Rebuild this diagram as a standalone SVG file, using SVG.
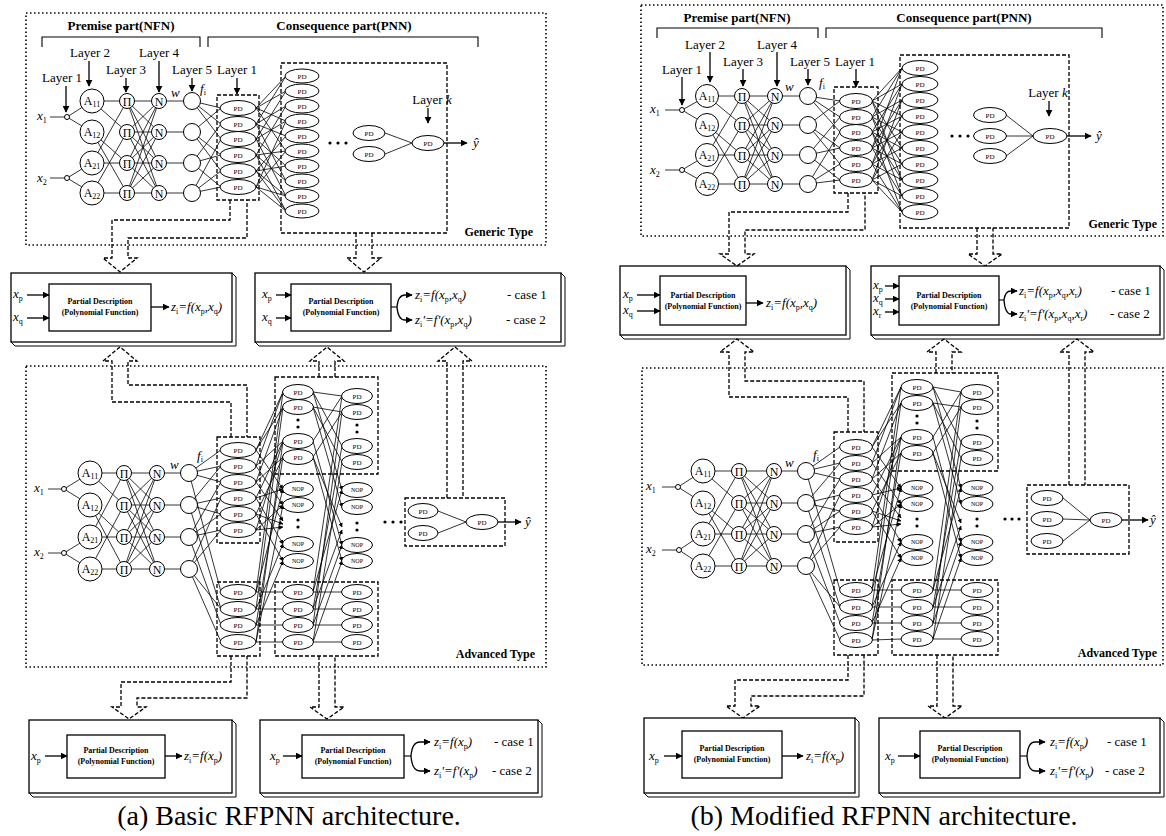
<svg xmlns="http://www.w3.org/2000/svg" width="1166" height="836" viewBox="0 0 1166 836">
<style>
.fr{fill:none;stroke:#000;stroke-width:1.6;stroke-dasharray:1.5 2.5}
.ds{fill:none;stroke:#000;stroke-width:1.3;stroke-dasharray:4 2}
.l{fill:none;stroke:#000;stroke-width:0.8}
.la{fill:none;stroke:#000;stroke-width:0.8;marker-end:url(#as)}
.ar{fill:none;stroke:#000;stroke-width:1.3;marker-end:url(#ah)}
.br{fill:none;stroke:#000;stroke-width:1.1}
.e{fill:#fff;stroke:#000;stroke-width:1}
.bx{fill:#fff;stroke:#000;stroke-width:1.3}
.sd{fill:none;stroke:#000;stroke-width:1}
.t{font-family:"Liberation Serif","Times New Roman",serif;font-size:13px;fill:#000}
.m{text-anchor:middle}
.e2{text-anchor:end}
.b{font-weight:bold}
.i{font-style:italic}
.n12{font-size:12px}
.pt{font-family:"Liberation Serif",serif;font-size:7px;text-anchor:middle}
.nt{font-family:"Liberation Serif",serif;font-size:6px;text-anchor:middle}
.pdt{font-family:"Liberation Serif",serif;font-size:8px;font-weight:bold;text-anchor:middle}
.sb{font-size:8px;font-style:normal}
.cap{font-family:"Liberation Serif",serif;font-size:28px;text-anchor:middle}
.dot{fill:#000}
</style>
<defs>
<marker id="ah" viewBox="0 0 10 10" refX="9" refY="5" markerWidth="7" markerHeight="7" markerUnits="userSpaceOnUse" orient="auto"><path d="M0,0L10,5L0,10z"/></marker>
<marker id="as" viewBox="0 0 10 10" refX="9" refY="5" markerWidth="4.5" markerHeight="4.5" markerUnits="userSpaceOnUse" orient="auto"><path d="M0,0L10,5L0,10z"/></marker>
</defs>

<!-- ================= FRAMES ================= -->
<g id="frames">
<rect class="fr" x="26" y="13" width="520" height="232"/>
<rect class="fr" x="26" y="366" width="520" height="301"/>
<rect class="fr" x="641" y="5" width="522" height="231"/>
<rect class="fr" x="642" y="368" width="521" height="297"/>
<text class="t b e2 n12" x="533" y="236">Generic Type</text>
<text class="t b e2 n12" x="535" y="658">Advanced Type</text>
<text class="t b e2 n12" x="1157" y="228">Generic Type</text>
<text class="t b e2 n12" x="1157" y="657">Advanced Type</text>
</g>

<!-- ================= CONNECTORS ================= -->
<g id="connectors">
<!-- (a) generic -->
<path class="l" d="M50,117H64.5M50,178H64.5M67,117L92,101M67,117L92,132M67,178L92,163M67,178L92,193
M92,101L127,101M92,101L127,132M92,132L127,163M92,132L127,193M92,163L127,101M92,163L127,163M92,193L127,132M92,193L127,193
M127,101L159,101M127,101L159,132M127,101L159,163M127,101L159,193M127,132L159,101M127,132L159,132M127,132L159,163M127,132L159,193
M127,163L159,101M127,163L159,132M127,163L159,163M127,163L159,193M127,193L159,101M127,193L159,132M127,193L159,163M127,193L159,193
M159,101H192M159,132H192M159,163H192M159,193H192
M192,101L221,108M192,101L221,124M192,101L221,139M192,132L221,108M192,132L221,155M192,132L221,171
M192,163L221,124M192,163L221,155M192,163L221,187M192,193L221,139M192,193L221,171M192,193L221,187
M256,108L286,76M256,108L286,91M256,108L286,121M256,108L286,151M256,124L286,76M256,124L286,106M256,124L286,136M256,124L286,181
M256,139L286,91M256,139L286,121M256,139L286,166M256,139L286,196M256,155L286,106M256,155L286,151M256,155L286,181M256,155L286,211
M256,171L286,136M256,171L286,166M256,171L286,196M256,171L286,211M256,187L286,121M256,187L286,151M256,187L286,196M256,187L286,211
M385,133L412,143M385,154L412,143"/>
<line class="ar" x1="89" y1="61" x2="89" y2="86"/>
<line class="ar" x1="159" y1="61" x2="159" y2="92"/>
<line class="ar" x1="126" y1="78" x2="126" y2="92"/>
<line class="ar" x1="66" y1="86" x2="66" y2="112"/>
<line class="ar" x1="192" y1="78" x2="192" y2="91"/>
<line class="ar" x1="237" y1="78" x2="237" y2="94"/>
<line class="ar" x1="428" y1="108" x2="428" y2="123"/>
<line class="ar" x1="444" y1="143" x2="467" y2="143"/>

<!-- (a) advanced -->
<path class="l" d="M48,489H61.5M48,553H61.5M64,489L90,473M64,489L90,505M64,553L90,537M64,553L90,569
M90,473L124,473M90,473L124,505M90,505L124,537M90,505L124,569M90,537L124,473M90,537L124,537M90,569L124,505M90,569L124,569
M124,473L157,473M124,473L157,505M124,473L157,537M124,473L157,569M124,505L157,473M124,505L157,505M124,505L157,537M124,505L157,569
M124,537L157,473M124,537L157,505M124,537L157,537M124,537L157,569M124,569L157,473M124,569L157,505M124,569L157,537M124,569L157,569
M157,473H189M157,505H189M157,537H189M157,569H189
M189,473L221,450M189,473L221,466M189,473L221,482M189,473L221,592M189,505L221,466M189,505L221,498M189,505L221,514M189,505L221,609
M189,537L221,482M189,537L221,514M189,537L221,530M189,537L221,625M189,569L221,498M189,569L221,530M189,569L221,642M189,569L221,609
M256,450L283,392M256,450L283,407M256,466L283,392M256,466L283,441M256,482L283,407M256,482L283,457M256,498L283,441M256,514L283,457M256,530L283,441
M256,592L283,592M256,592L283,392M256,609L283,609M256,609L283,407M256,625L283,625M256,625L283,457M256,642L283,642M256,642L283,441
M313,392L342,396M313,392L342,446M313,407L342,412M313,407L342,462M313,441L342,396M313,457L342,412
M313,592L342,592M313,592L342,396M313,609L342,609M313,609L342,446M313,625L342,625M313,625L342,412M313,642L342,642M313,642L342,462
M438,511L466,522M438,533L466,522"/>
<line class="la" x1="256" y1="450" x2="283" y2="489"/>
<line class="la" x1="256" y1="466" x2="283" y2="505"/>
<line class="la" x1="256" y1="482" x2="283" y2="521"/>
<line class="la" x1="256" y1="498" x2="283" y2="544"/>
<line class="la" x1="256" y1="498" x2="283" y2="489"/>
<line class="la" x1="256" y1="514" x2="283" y2="561"/>
<line class="la" x1="256" y1="514" x2="283" y2="524"/>
<line class="la" x1="256" y1="530" x2="283" y2="505"/>
<line class="la" x1="256" y1="530" x2="283" y2="527"/>
<line class="la" x1="256" y1="592" x2="283" y2="489"/>
<line class="la" x1="256" y1="609" x2="283" y2="544"/>
<line class="la" x1="256" y1="625" x2="283" y2="561"/>
<line class="la" x1="256" y1="642" x2="283" y2="505"/>
<line class="la" x1="313" y1="392" x2="342" y2="490"/>
<line class="la" x1="313" y1="407" x2="342" y2="507"/>
<line class="la" x1="313" y1="441" x2="342" y2="545"/>
<line class="la" x1="313" y1="457" x2="342" y2="561"/>
<line class="la" x1="313" y1="457" x2="342" y2="527"/>
<line class="la" x1="313" y1="592" x2="342" y2="490"/>
<line class="la" x1="313" y1="609" x2="342" y2="530"/>
<line class="la" x1="313" y1="625" x2="342" y2="545"/>
<line class="la" x1="313" y1="642" x2="342" y2="561"/>
<line class="ar" x1="498" y1="522" x2="521" y2="522"/>

<!-- (b) generic -->
<path class="l" d="M665,110H679.5M665,170H679.5M682,110L707,96M682,110L707,125M682,170L707,155M682,170L707,184
M707,96L742,96M707,96L742,125M707,125L742,155M707,125L742,184M707,155L742,96M707,155L742,155M707,184L742,125M707,184L742,184
M742,96L775,96M742,96L775,125M742,96L775,155M742,96L775,184M742,125L775,96M742,125L775,125M742,125L775,155M742,125L775,184
M742,155L775,96M742,155L775,125M742,155L775,155M742,155L775,184M742,184L775,96M742,184L775,125M742,184L775,155M742,184L775,184
M775,96H808M775,125H808M775,155H808M775,184H808
M808,96L840,101M808,96L840,117M808,96L840,132M808,125L840,101M808,125L840,148M808,125L840,164
M808,155L840,117M808,155L840,148M808,155L840,180M808,184L840,132M808,184L840,164M808,184L840,180
M872,101L902,68M872,101L902,84M872,101L902,116M872,101L902,148M872,101L902,180
M872,117L902,68M872,117L902,100M872,117L902,132M872,117L902,164M872,117L902,196
M872,132L902,84M872,132L902,116M872,132L902,148M872,132L902,180M872,132L902,212
M872,148L902,68M872,148L902,100M872,148L902,132M872,148L902,164M872,148L902,196
M872,164L902,84M872,164L902,116M872,164L902,148M872,164L902,180M872,164L902,212
M872,180L902,100M872,180L902,132M872,180L902,164M872,180L902,196M872,180L902,212
M1006,115L1033,136M1006,136L1033,136M1006,156L1033,136"/>
<line class="ar" x1="710" y1="52" x2="710" y2="82"/>
<line class="ar" x1="777" y1="52" x2="777" y2="86"/>
<line class="ar" x1="743" y1="69" x2="743" y2="86"/>
<line class="ar" x1="682" y1="77" x2="682" y2="105"/>
<line class="ar" x1="808" y1="69" x2="808" y2="85"/>
<line class="ar" x1="856" y1="69" x2="856" y2="87"/>
<line class="ar" x1="1049" y1="101" x2="1049" y2="116"/>
<line class="ar" x1="1067" y1="136" x2="1091" y2="136"/>

<!-- (b) advanced -->
<path class="l" d="M662,487H675.5M662,550H676.5M678,487L703,471M678,487L703,503M679,550L703,534M679,550L703,566
M703,471L739,471M703,471L739,503M703,503L739,534M703,503L739,566M703,534L739,471M703,534L739,534M703,566L739,503M703,566L739,566
M739,471L774,471M739,471L774,503M739,471L774,534M739,471L774,566M739,503L774,471M739,503L774,503M739,503L774,534M739,503L774,566
M739,534L774,471M739,534L774,503M739,534L774,534M739,534L774,566M739,566L774,471M739,566L774,503M739,566L774,534M739,566L774,566
M774,471H806M774,503H806M774,534H806M774,566H806
M806,471L840,447M806,471L840,463M806,471L840,479M806,471L840,590M806,503L840,463M806,503L840,495M806,503L840,511M806,503L840,607
M806,534L840,479M806,534L840,511M806,534L840,527M806,534L840,623M806,566L840,495M806,566L840,527M806,566L840,640M806,566L840,607
M872,447L901,387M872,447L901,403M872,463L901,387M872,463L901,437M872,479L901,403M872,479L901,453M872,495L901,437M872,511L901,453M872,527L901,437
M872,590L901,590M872,590L901,387M872,607L901,607M872,607L901,403M872,623L901,623M872,623L901,453M872,640L901,639M872,640L901,437
M933,387L961,392M933,387L961,442M933,403L961,407M933,403L961,458M933,437L961,392M933,453L961,407
M933,590L961,590M933,590L961,392M933,607L961,607M933,607L961,442M933,623L961,623M933,623L961,407M933,639L961,639M933,639L961,458
M1063,498L1090,520M1063,519L1090,520M1063,541L1090,520"/>
<line class="la" x1="872" y1="447" x2="901" y2="488"/>
<line class="la" x1="872" y1="463" x2="901" y2="504"/>
<line class="la" x1="872" y1="479" x2="901" y2="518"/>
<line class="la" x1="872" y1="495" x2="901" y2="542"/>
<line class="la" x1="872" y1="495" x2="901" y2="488"/>
<line class="la" x1="872" y1="511" x2="901" y2="558"/>
<line class="la" x1="872" y1="511" x2="901" y2="521"/>
<line class="la" x1="872" y1="527" x2="901" y2="504"/>
<line class="la" x1="872" y1="527" x2="901" y2="524"/>
<line class="la" x1="872" y1="590" x2="901" y2="488"/>
<line class="la" x1="872" y1="607" x2="901" y2="542"/>
<line class="la" x1="872" y1="623" x2="901" y2="558"/>
<line class="la" x1="872" y1="640" x2="901" y2="504"/>
<line class="la" x1="933" y1="387" x2="961" y2="488"/>
<line class="la" x1="933" y1="403" x2="961" y2="504"/>
<line class="la" x1="933" y1="437" x2="961" y2="542"/>
<line class="la" x1="933" y1="453" x2="961" y2="558"/>
<line class="la" x1="933" y1="453" x2="961" y2="523"/>
<line class="la" x1="933" y1="590" x2="961" y2="488"/>
<line class="la" x1="933" y1="607" x2="961" y2="526"/>
<line class="la" x1="933" y1="623" x2="961" y2="542"/>
<line class="la" x1="933" y1="639" x2="961" y2="558"/>
<line class="ar" x1="1122" y1="520" x2="1148" y2="520"/>

<!-- dashed block arrows -->
<path class="ds" d="M230,200V220H112V258H103L120,272L137,258H128V238H247V200"/>
<path class="ds" d="M356,233V258H347L364,272L381,258H372V233"/>
<path class="ds" d="M231,437V402H112V361H103L120,347L137,361H128V385H247V437"/>
<path class="ds" d="M319,377V361H310L327,347L344,361H335V377"/>
<path class="ds" d="M447,498V361H438L455,347L472,361H463V498"/>
<path class="ds" d="M231,656V682H121V707H112L129,719L146,707H137V698H247V656"/>
<path class="ds" d="M319,656V707H310L327,719L344,707H335V656"/>
<path class="ds" d="M848,193V212H729V254H720L737,266L754,254H745V230H865V193"/>
<path class="ds" d="M977,228V254H968L985,266L1002,254H993V228"/>
<path class="ds" d="M848,432V397H729V352H720L737,339L754,352H745V381H864V432"/>
<path class="ds" d="M936,373V352H927L944,339L961,352H952V373"/>
<path class="ds" d="M1069,485V352H1060L1077,339L1094,352H1085V485"/>
<path class="ds" d="M848,655V680H735V706H726L743,718L760,706H751V696H864V655"/>
<path class="ds" d="M937,655V706H928L945,718L962,706H953V655"/>
</g>

<!-- ================= PANEL (a) GENERIC NODES ================= -->
<g id="a-gen-labels">
<text class="t b m" x="121" y="30">Premise part(NFN)</text>
<text class="t b m" x="344" y="30">Consequence part(PNN)</text>
<path class="br" d="M42,47V37H200V47M208,47V37H478V47"/>
<text class="t m" x="62" y="82">Layer 1</text>
<text class="t m" x="90" y="57">Layer 2</text>
<text class="t m" x="126" y="74">Layer 3</text>
<text class="t m" x="159" y="57">Layer 4</text>
<text class="t m" x="192" y="74">Layer 5</text>
<text class="t m" x="237" y="74">Layer 1</text>
<text class="t m" x="432" y="104">Layer <tspan class="i">k</tspan></text>
<text class="t i" x="171" y="97">w</text>
<text class="t i" x="200" y="93">f<tspan class="sb" dy="2">i</tspan></text>
<text class="t i" x="473" y="147">ŷ</text>
</g>
<g id="a-g-x1"><text class="t i" x="37" y="120">x<tspan class="sb" dy="3">1</tspan></text><circle class="e" cx="67" cy="117" r="2.5"/></g>
<g id="a-g-x2"><text class="t i" x="37" y="182">x<tspan class="sb" dy="3">2</tspan></text><circle class="e" cx="67" cy="178" r="2.5"/></g>
<g id="a-g-A11"><circle class="e" cx="92" cy="101" r="12"/><text class="t m n12" x="92" y="105">A<tspan class="sb" dy="2">11</tspan></text></g>
<g id="a-g-A12"><circle class="e" cx="92" cy="132" r="12"/><text class="t m n12" x="92" y="136">A<tspan class="sb" dy="2">12</tspan></text></g>
<g id="a-g-A21"><circle class="e" cx="92" cy="163" r="12"/><text class="t m n12" x="92" y="167">A<tspan class="sb" dy="2">21</tspan></text></g>
<g id="a-g-A22"><circle class="e" cx="92" cy="193" r="12"/><text class="t m n12" x="92" y="197">A<tspan class="sb" dy="2">22</tspan></text></g>
<g id="a-g-P1"><circle class="e" cx="127" cy="101" r="7.5"/><text class="t m n12" x="127" y="105.5">Π</text></g>
<g id="a-g-P2"><circle class="e" cx="127" cy="132" r="7.5"/><text class="t m n12" x="127" y="136.5">Π</text></g>
<g id="a-g-P3"><circle class="e" cx="127" cy="163" r="7.5"/><text class="t m n12" x="127" y="167.5">Π</text></g>
<g id="a-g-P4"><circle class="e" cx="127" cy="193" r="7.5"/><text class="t m n12" x="127" y="197.5">Π</text></g>
<g id="a-g-N1"><circle class="e" cx="159" cy="101" r="7.5"/><text class="t m n12" x="159" y="105.5">N</text></g>
<g id="a-g-N2"><circle class="e" cx="159" cy="132" r="7.5"/><text class="t m n12" x="159" y="136.5">N</text></g>
<g id="a-g-N3"><circle class="e" cx="159" cy="163" r="7.5"/><text class="t m n12" x="159" y="167.5">N</text></g>
<g id="a-g-N4"><circle class="e" cx="159" cy="193" r="7.5"/><text class="t m n12" x="159" y="197.5">N</text></g>
<g id="a-g-L1"><circle class="e" cx="192" cy="101" r="8.5"/></g>
<g id="a-g-L2"><circle class="e" cx="192" cy="132" r="8.5"/></g>
<g id="a-g-L3"><circle class="e" cx="192" cy="163" r="8.5"/></g>
<g id="a-g-L4"><circle class="e" cx="192" cy="193" r="8.5"/></g>
<g id="a-g-pd1">
<rect class="ds" x="217" y="95" width="42" height="105"/>
<ellipse class="e" cx="238" cy="108" rx="18" ry="7.5"/><text class="pt" x="238" y="110.5">PD</text>
<ellipse class="e" cx="238" cy="124" rx="18" ry="7.5"/><text class="pt" x="238" y="126.5">PD</text>
<ellipse class="e" cx="238" cy="139" rx="18" ry="7.5"/><text class="pt" x="238" y="141.5">PD</text>
<ellipse class="e" cx="238" cy="155" rx="18" ry="7.5"/><text class="pt" x="238" y="157.5">PD</text>
<ellipse class="e" cx="238" cy="171" rx="18" ry="7.5"/><text class="pt" x="238" y="173.5">PD</text>
<ellipse class="e" cx="238" cy="187" rx="18" ry="7.5"/><text class="pt" x="238" y="189.5">PD</text>
</g>
<g id="a-g-pnn">
<rect class="ds" x="281" y="63" width="166" height="170"/>
<ellipse class="e" cx="302" cy="76" rx="17" ry="7"/><text class="pt" x="302" y="78.5">PD</text>
<ellipse class="e" cx="302" cy="91" rx="17" ry="7"/><text class="pt" x="302" y="93.5">PD</text>
<ellipse class="e" cx="302" cy="106" rx="17" ry="7"/><text class="pt" x="302" y="108.5">PD</text>
<ellipse class="e" cx="302" cy="121" rx="17" ry="7"/><text class="pt" x="302" y="123.5">PD</text>
<ellipse class="e" cx="302" cy="136" rx="17" ry="7"/><text class="pt" x="302" y="138.5">PD</text>
<ellipse class="e" cx="302" cy="151" rx="17" ry="7"/><text class="pt" x="302" y="153.5">PD</text>
<ellipse class="e" cx="302" cy="166" rx="17" ry="7"/><text class="pt" x="302" y="168.5">PD</text>
<ellipse class="e" cx="302" cy="181" rx="17" ry="7"/><text class="pt" x="302" y="183.5">PD</text>
<ellipse class="e" cx="302" cy="196" rx="17" ry="7"/><text class="pt" x="302" y="198.5">PD</text>
<ellipse class="e" cx="302" cy="211" rx="17" ry="7"/><text class="pt" x="302" y="213.5">PD</text>
<circle class="dot" cx="330" cy="143" r="1.6"/><circle class="dot" cx="338" cy="143" r="1.6"/><circle class="dot" cx="346" cy="143" r="1.6"/>
<ellipse class="e" cx="369" cy="133" rx="16" ry="7.5"/><text class="pt" x="369" y="135.5">PD</text>
<ellipse class="e" cx="369" cy="154" rx="16" ry="7.5"/><text class="pt" x="369" y="156.5">PD</text>
<ellipse class="e" cx="428" cy="143" rx="16" ry="7.5"/><text class="pt" x="428" y="145.5">PD</text>
</g>

<!-- ================= PANEL (a) MIDDLE BOXES ================= -->
<g id="a-mid-left">
<rect class="bx" x="11" y="273" width="221" height="69"/>
<path class="sd" d="M232,273L236,277V346H15L11,342"/>
<rect class="bx" x="49" y="284" width="102" height="47"/>
<text class="pdt" x="100" y="304">Partial Description</text>
<text class="pdt" x="100" y="315">(Polynomial Function)</text>
<text class="t i" x="13" y="298">x<tspan class="sb" dy="3">p</tspan></text>
<text class="t i" x="13" y="321">x<tspan class="sb" dy="3">q</tspan></text>
<line class="ar" x1="27" y1="295" x2="49" y2="295"/>
<line class="ar" x1="27" y1="318" x2="49" y2="318"/>
<line class="ar" x1="151" y1="307" x2="169" y2="307"/>
<text class="t i" x="171" y="311">z<tspan class="sb" dy="3">i</tspan><tspan dy="-3">=f(x</tspan><tspan class="sb" dy="3">p</tspan><tspan dy="-3">,x</tspan><tspan class="sb" dy="3">q</tspan><tspan dy="-3">)</tspan></text>
</g>
<g id="a-mid-right">
<rect class="bx" x="255" y="273" width="306" height="69"/>
<path class="sd" d="M561,273L565,277V346H259L255,342"/>
<rect class="bx" x="291" y="284" width="100" height="47"/>
<text class="pdt" x="341" y="304">Partial Description</text>
<text class="pdt" x="341" y="315">(Polynomial Function)</text>
<text class="t i" x="262" y="298">x<tspan class="sb" dy="3">p</tspan></text>
<text class="t i" x="262" y="321">x<tspan class="sb" dy="3">q</tspan></text>
<line class="ar" x1="276" y1="295" x2="291" y2="295"/>
<line class="ar" x1="276" y1="318" x2="291" y2="318"/>
<path class="br" d="M391,307H397"/>
<path class="ar" d="M397,307Q398,295 405,295H412"/>
<path class="ar" d="M397,307Q398,320 405,320H412"/>
<text class="t i" x="415" y="299">z<tspan class="sb" dy="3">i</tspan><tspan dy="-3">=f(x</tspan><tspan class="sb" dy="3">p</tspan><tspan dy="-3">,x</tspan><tspan class="sb" dy="3">q</tspan><tspan dy="-3">)</tspan></text>
<text class="t" x="507" y="299">- case 1</text>
<text class="t i" x="415" y="324">z<tspan class="sb" dy="3">i</tspan><tspan dy="-3">'=f'(x</tspan><tspan class="sb" dy="3">p</tspan><tspan dy="-3">,x</tspan><tspan class="sb" dy="3">q</tspan><tspan dy="-3">)</tspan></text>
<text class="t" x="506" y="324">- case 2</text>
</g>

<!-- ================= PANEL (a) ADVANCED NODES ================= -->
<g id="a-adv-labels">
<text class="t i" x="170" y="469">w</text>
<text class="t i" x="197" y="460">f<tspan class="sb" dy="2">i</tspan></text>
<text class="t i" x="525" y="526">ŷ</text>
</g>
<g id="a-a-x1"><text class="t i" x="34" y="492">x<tspan class="sb" dy="3">1</tspan></text><circle class="e" cx="64" cy="489" r="2.5"/></g>
<g id="a-a-x2"><text class="t i" x="34" y="556">x<tspan class="sb" dy="3">2</tspan></text><circle class="e" cx="64" cy="553" r="2.5"/></g>
<g id="a-a-A11"><circle class="e" cx="90" cy="473" r="12"/><text class="t m n12" x="90" y="477">A<tspan class="sb" dy="2">11</tspan></text></g>
<g id="a-a-A12"><circle class="e" cx="90" cy="505" r="12"/><text class="t m n12" x="90" y="509">A<tspan class="sb" dy="2">12</tspan></text></g>
<g id="a-a-A21"><circle class="e" cx="90" cy="537" r="12"/><text class="t m n12" x="90" y="541">A<tspan class="sb" dy="2">21</tspan></text></g>
<g id="a-a-A22"><circle class="e" cx="90" cy="569" r="12"/><text class="t m n12" x="90" y="573">A<tspan class="sb" dy="2">22</tspan></text></g>
<g id="a-a-P1"><circle class="e" cx="124" cy="473" r="7.5"/><text class="t m n12" x="124" y="477.5">Π</text></g>
<g id="a-a-P2"><circle class="e" cx="124" cy="505" r="7.5"/><text class="t m n12" x="124" y="509.5">Π</text></g>
<g id="a-a-P3"><circle class="e" cx="124" cy="537" r="7.5"/><text class="t m n12" x="124" y="541.5">Π</text></g>
<g id="a-a-P4"><circle class="e" cx="124" cy="569" r="7.5"/><text class="t m n12" x="124" y="573.5">Π</text></g>
<g id="a-a-N1"><circle class="e" cx="157" cy="473" r="7.5"/><text class="t m n12" x="157" y="477.5">N</text></g>
<g id="a-a-N2"><circle class="e" cx="157" cy="505" r="7.5"/><text class="t m n12" x="157" y="509.5">N</text></g>
<g id="a-a-N3"><circle class="e" cx="157" cy="537" r="7.5"/><text class="t m n12" x="157" y="541.5">N</text></g>
<g id="a-a-N4"><circle class="e" cx="157" cy="569" r="7.5"/><text class="t m n12" x="157" y="573.5">N</text></g>
<g id="a-a-L1"><circle class="e" cx="189" cy="473" r="8.5"/></g>
<g id="a-a-L2"><circle class="e" cx="189" cy="505" r="8.5"/></g>
<g id="a-a-L3"><circle class="e" cx="189" cy="537" r="8.5"/></g>
<g id="a-a-L4"><circle class="e" cx="189" cy="569" r="8.5"/></g>
<g id="a-a-pd1-up">
<rect class="ds" x="217" y="437" width="43" height="106"/>
<ellipse class="e" cx="238" cy="450" rx="18" ry="7.5"/><text class="pt" x="238" y="452.5">PD</text>
<ellipse class="e" cx="238" cy="466" rx="18" ry="7.5"/><text class="pt" x="238" y="468.5">PD</text>
<ellipse class="e" cx="238" cy="482" rx="18" ry="7.5"/><text class="pt" x="238" y="484.5">PD</text>
<ellipse class="e" cx="238" cy="498" rx="18" ry="7.5"/><text class="pt" x="238" y="500.5">PD</text>
<ellipse class="e" cx="238" cy="514" rx="18" ry="7.5"/><text class="pt" x="238" y="516.5">PD</text>
<ellipse class="e" cx="238" cy="530" rx="18" ry="7.5"/><text class="pt" x="238" y="532.5">PD</text>
</g>
<g id="a-a-pd1-low">
<rect class="ds" x="217" y="582" width="43" height="74"/>
<ellipse class="e" cx="238" cy="592" rx="18" ry="7.5"/><text class="pt" x="238" y="594.5">PD</text>
<ellipse class="e" cx="238" cy="609" rx="18" ry="7.5"/><text class="pt" x="238" y="611.5">PD</text>
<ellipse class="e" cx="238" cy="625" rx="18" ry="7.5"/><text class="pt" x="238" y="627.5">PD</text>
<ellipse class="e" cx="238" cy="642" rx="18" ry="7.5"/><text class="pt" x="238" y="644.5">PD</text>
</g>
<g id="a-a-l2-up">
<rect class="ds" x="275" y="377" width="103" height="97"/>
<ellipse class="e" cx="298" cy="392" rx="15.5" ry="7.5"/><text class="pt" x="298" y="394.5">PD</text>
<ellipse class="e" cx="298" cy="407" rx="15.5" ry="7.5"/><text class="pt" x="298" y="409.5">PD</text>
<circle class="dot" cx="298" cy="420" r="1.6"/><circle class="dot" cx="298" cy="427" r="1.6"/>
<ellipse class="e" cx="298" cy="441" rx="15.5" ry="7.5"/><text class="pt" x="298" y="443.5">PD</text>
<ellipse class="e" cx="298" cy="457" rx="15.5" ry="7.5"/><text class="pt" x="298" y="459.5">PD</text>
<ellipse class="e" cx="357" cy="396" rx="15.5" ry="7.5"/><text class="pt" x="357" y="398.5">PD</text>
<ellipse class="e" cx="357" cy="412" rx="15.5" ry="7.5"/><text class="pt" x="357" y="414.5">PD</text>
<circle class="dot" cx="357" cy="425" r="1.6"/><circle class="dot" cx="357" cy="432" r="1.6"/>
<ellipse class="e" cx="357" cy="446" rx="15.5" ry="7.5"/><text class="pt" x="357" y="448.5">PD</text>
<ellipse class="e" cx="357" cy="462" rx="15.5" ry="7.5"/><text class="pt" x="357" y="464.5">PD</text>
</g>
<g id="a-a-nop">
<ellipse class="e" cx="298" cy="489" rx="15.5" ry="7.5"/><text class="nt" x="298" y="491">NOP</text>
<ellipse class="e" cx="298" cy="505" rx="15.5" ry="7.5"/><text class="nt" x="298" y="507">NOP</text>
<circle class="dot" cx="298" cy="520" r="1.6"/><circle class="dot" cx="298" cy="527" r="1.6"/>
<ellipse class="e" cx="298" cy="544" rx="15.5" ry="7.5"/><text class="nt" x="298" y="546">NOP</text>
<ellipse class="e" cx="298" cy="561" rx="15.5" ry="7.5"/><text class="nt" x="298" y="563">NOP</text>
<ellipse class="e" cx="357" cy="490" rx="15.5" ry="7.5"/><text class="nt" x="357" y="492">NOP</text>
<ellipse class="e" cx="357" cy="507" rx="15.5" ry="7.5"/><text class="nt" x="357" y="509">NOP</text>
<circle class="dot" cx="357" cy="523" r="1.6"/><circle class="dot" cx="357" cy="530" r="1.6"/>
<ellipse class="e" cx="357" cy="545" rx="15.5" ry="7.5"/><text class="nt" x="357" y="547">NOP</text>
<ellipse class="e" cx="357" cy="561" rx="15.5" ry="7.5"/><text class="nt" x="357" y="563">NOP</text>
</g>
<g id="a-a-l2-low">
<rect class="ds" x="275" y="582" width="103" height="74"/>
<ellipse class="e" cx="298" cy="592" rx="15.5" ry="7.5"/><text class="pt" x="298" y="594.5">PD</text>
<ellipse class="e" cx="298" cy="609" rx="15.5" ry="7.5"/><text class="pt" x="298" y="611.5">PD</text>
<ellipse class="e" cx="298" cy="625" rx="15.5" ry="7.5"/><text class="pt" x="298" y="627.5">PD</text>
<ellipse class="e" cx="298" cy="642" rx="15.5" ry="7.5"/><text class="pt" x="298" y="644.5">PD</text>
<ellipse class="e" cx="357" cy="592" rx="15.5" ry="7.5"/><text class="pt" x="357" y="594.5">PD</text>
<ellipse class="e" cx="357" cy="609" rx="15.5" ry="7.5"/><text class="pt" x="357" y="611.5">PD</text>
<ellipse class="e" cx="357" cy="625" rx="15.5" ry="7.5"/><text class="pt" x="357" y="627.5">PD</text>
<ellipse class="e" cx="357" cy="642" rx="15.5" ry="7.5"/><text class="pt" x="357" y="644.5">PD</text>
</g>
<g id="a-a-final">
<circle class="dot" cx="385" cy="522" r="1.6"/><circle class="dot" cx="393" cy="522" r="1.6"/><circle class="dot" cx="401" cy="522" r="1.6"/>
<rect class="ds" x="405" y="498" width="100" height="48"/>
<ellipse class="e" cx="423" cy="511" rx="15" ry="7.5"/><text class="pt" x="423" y="513.5">PD</text>
<ellipse class="e" cx="423" cy="533" rx="15" ry="7.5"/><text class="pt" x="423" y="535.5">PD</text>
<ellipse class="e" cx="482" cy="522" rx="16" ry="7.5"/><text class="pt" x="482" y="524.5">PD</text>
</g>

<!-- ================= PANEL (a) BOTTOM BOXES ================= -->
<g id="a-bot-left">
<rect class="bx" x="29" y="720" width="203" height="73"/>
<path class="sd" d="M232,720L236,724V797H33L29,793"/>
<rect class="bx" x="67" y="735" width="98" height="43"/>
<text class="pdt" x="116" y="753">Partial Description</text>
<text class="pdt" x="116" y="764">(Polynomial Function)</text>
<text class="t i" x="31" y="760">x<tspan class="sb" dy="3">p</tspan></text>
<line class="ar" x1="45" y1="756" x2="67" y2="756"/>
<line class="ar" x1="165" y1="756" x2="182" y2="756"/>
<text class="t i" x="184" y="760">z<tspan class="sb" dy="3">i</tspan><tspan dy="-3">=f(x</tspan><tspan class="sb" dy="3">p</tspan><tspan dy="-3">)</tspan></text>
</g>
<g id="a-bot-right">
<rect class="bx" x="260" y="720" width="278" height="73"/>
<path class="sd" d="M538,720L542,724V797H264L260,793"/>
<rect class="bx" x="302" y="735" width="102" height="43"/>
<text class="pdt" x="353" y="753">Partial Description</text>
<text class="pdt" x="353" y="764">(Polynomial Function)</text>
<text class="t i" x="270" y="760">x<tspan class="sb" dy="3">p</tspan></text>
<line class="ar" x1="283" y1="756" x2="302" y2="756"/>
<path class="br" d="M404,756H411"/>
<path class="ar" d="M411,756Q412,742 420,742H430"/>
<path class="ar" d="M411,756Q412,771 420,771H430"/>
<text class="t i" x="434" y="746">z<tspan class="sb" dy="3">i</tspan><tspan dy="-3">=f(x</tspan><tspan class="sb" dy="3">p</tspan><tspan dy="-3">)</tspan></text>
<text class="t" x="494" y="746">- case 1</text>
<text class="t i" x="434" y="775">z<tspan class="sb" dy="3">i</tspan><tspan dy="-3">'=f'(x</tspan><tspan class="sb" dy="3">p</tspan><tspan dy="-3">)</tspan></text>
<text class="t" x="492" y="775">- case 2</text>
</g>

<!-- ================= PANEL (b) GENERIC NODES ================= -->
<g id="b-gen-labels">
<text class="t b m" x="737" y="22">Premise part(NFN)</text>
<text class="t b m" x="964" y="22">Consequence part(PNN)</text>
<path class="br" d="M657,38V28H818V38M826,38V28H1102V38"/>
<text class="t m" x="682" y="74">Layer 1</text>
<text class="t m" x="705" y="49">Layer 2</text>
<text class="t m" x="743" y="66">Layer 3</text>
<text class="t m" x="777" y="49">Layer 4</text>
<text class="t m" x="810" y="66">Layer 5</text>
<text class="t m" x="855" y="66">Layer 1</text>
<text class="t m" x="1048" y="97">Layer <tspan class="i">k</tspan></text>
<text class="t i" x="785" y="91">w</text>
<text class="t i" x="819" y="87">f<tspan class="sb" dy="2">i</tspan></text>
<text class="t i" x="1096" y="140">ŷ</text>
</g>
<g id="b-g-x1"><text class="t i" x="650" y="113">x<tspan class="sb" dy="3">1</tspan></text><circle class="e" cx="682" cy="110" r="2.5"/></g>
<g id="b-g-x2"><text class="t i" x="650" y="174">x<tspan class="sb" dy="3">2</tspan></text><circle class="e" cx="682" cy="170" r="2.5"/></g>
<g id="b-g-A11"><circle class="e" cx="707" cy="96" r="11.5"/><text class="t m n12" x="707" y="100">A<tspan class="sb" dy="2">11</tspan></text></g>
<g id="b-g-A12"><circle class="e" cx="707" cy="125" r="11.5"/><text class="t m n12" x="707" y="129">A<tspan class="sb" dy="2">12</tspan></text></g>
<g id="b-g-A21"><circle class="e" cx="707" cy="155" r="11.5"/><text class="t m n12" x="707" y="159">A<tspan class="sb" dy="2">21</tspan></text></g>
<g id="b-g-A22"><circle class="e" cx="707" cy="184" r="11.5"/><text class="t m n12" x="707" y="188">A<tspan class="sb" dy="2">22</tspan></text></g>
<g id="b-g-P1"><circle class="e" cx="742" cy="96" r="7.5"/><text class="t m n12" x="742" y="100.5">Π</text></g>
<g id="b-g-P2"><circle class="e" cx="742" cy="125" r="7.5"/><text class="t m n12" x="742" y="129.5">Π</text></g>
<g id="b-g-P3"><circle class="e" cx="742" cy="155" r="7.5"/><text class="t m n12" x="742" y="159.5">Π</text></g>
<g id="b-g-P4"><circle class="e" cx="742" cy="184" r="7.5"/><text class="t m n12" x="742" y="188.5">Π</text></g>
<g id="b-g-N1"><circle class="e" cx="775" cy="96" r="7.5"/><text class="t m n12" x="775" y="100.5">N</text></g>
<g id="b-g-N2"><circle class="e" cx="775" cy="125" r="7.5"/><text class="t m n12" x="775" y="129.5">N</text></g>
<g id="b-g-N3"><circle class="e" cx="775" cy="155" r="7.5"/><text class="t m n12" x="775" y="159.5">N</text></g>
<g id="b-g-N4"><circle class="e" cx="775" cy="184" r="7.5"/><text class="t m n12" x="775" y="188.5">N</text></g>
<g id="b-g-L1"><circle class="e" cx="808" cy="96" r="8.5"/></g>
<g id="b-g-L2"><circle class="e" cx="808" cy="125" r="8.5"/></g>
<g id="b-g-L3"><circle class="e" cx="808" cy="155" r="8.5"/></g>
<g id="b-g-L4"><circle class="e" cx="808" cy="184" r="8.5"/></g>
<g id="b-g-pd1">
<rect class="ds" x="834" y="87" width="44" height="106"/>
<ellipse class="e" cx="856" cy="101" rx="16.5" ry="7.5"/><text class="pt" x="856" y="103.5">PD</text>
<ellipse class="e" cx="856" cy="117" rx="16.5" ry="7.5"/><text class="pt" x="856" y="119.5">PD</text>
<ellipse class="e" cx="856" cy="132" rx="16.5" ry="7.5"/><text class="pt" x="856" y="134.5">PD</text>
<ellipse class="e" cx="856" cy="148" rx="16.5" ry="7.5"/><text class="pt" x="856" y="150.5">PD</text>
<ellipse class="e" cx="856" cy="164" rx="16.5" ry="7.5"/><text class="pt" x="856" y="166.5">PD</text>
<ellipse class="e" cx="856" cy="180" rx="16.5" ry="7.5"/><text class="pt" x="856" y="182.5">PD</text>
</g>
<g id="b-g-pnn">
<rect class="ds" x="900" y="55" width="169" height="173"/>
<ellipse class="e" cx="920" cy="68" rx="18" ry="7.5"/><text class="pt" x="920" y="70.5">PD</text>
<ellipse class="e" cx="920" cy="84" rx="18" ry="7.5"/><text class="pt" x="920" y="86.5">PD</text>
<ellipse class="e" cx="920" cy="100" rx="18" ry="7.5"/><text class="pt" x="920" y="102.5">PD</text>
<ellipse class="e" cx="920" cy="116" rx="18" ry="7.5"/><text class="pt" x="920" y="118.5">PD</text>
<ellipse class="e" cx="920" cy="132" rx="18" ry="7.5"/><text class="pt" x="920" y="134.5">PD</text>
<ellipse class="e" cx="920" cy="148" rx="18" ry="7.5"/><text class="pt" x="920" y="150.5">PD</text>
<ellipse class="e" cx="920" cy="164" rx="18" ry="7.5"/><text class="pt" x="920" y="166.5">PD</text>
<ellipse class="e" cx="920" cy="180" rx="18" ry="7.5"/><text class="pt" x="920" y="182.5">PD</text>
<ellipse class="e" cx="920" cy="196" rx="18" ry="7.5"/><text class="pt" x="920" y="198.5">PD</text>
<ellipse class="e" cx="920" cy="212" rx="18" ry="7.5"/><text class="pt" x="920" y="214.5">PD</text>
<circle class="dot" cx="952" cy="136" r="1.6"/><circle class="dot" cx="960" cy="136" r="1.6"/><circle class="dot" cx="968" cy="136" r="1.6"/>
<ellipse class="e" cx="990" cy="115" rx="16.5" ry="7.5"/><text class="pt" x="990" y="117.5">PD</text>
<ellipse class="e" cx="990" cy="136" rx="16.5" ry="7.5"/><text class="pt" x="990" y="138.5">PD</text>
<ellipse class="e" cx="990" cy="156" rx="16.5" ry="7.5"/><text class="pt" x="990" y="158.5">PD</text>
<ellipse class="e" cx="1050" cy="136" rx="17" ry="7.5"/><text class="pt" x="1050" y="138.5">PD</text>
</g>

<!-- ================= PANEL (b) MIDDLE BOXES ================= -->
<g id="b-mid-left">
<rect class="bx" x="620" y="266" width="226" height="69"/>
<path class="sd" d="M846,266L850,270V339H624L620,335"/>
<rect class="bx" x="660" y="276" width="86" height="49"/>
<text class="pdt" x="703" y="298">Partial Description</text>
<text class="pdt" x="703" y="309">(Polynomial Function)</text>
<text class="t i" x="623" y="298">x<tspan class="sb" dy="3">p</tspan></text>
<text class="t i" x="623" y="314">x<tspan class="sb" dy="3">q</tspan></text>
<line class="ar" x1="637" y1="295" x2="660" y2="295"/>
<line class="ar" x1="637" y1="311" x2="660" y2="311"/>
<line class="ar" x1="746" y1="303" x2="763" y2="303"/>
<text class="t i" x="766" y="307">z<tspan class="sb" dy="3">i</tspan><tspan dy="-3">=f(x</tspan><tspan class="sb" dy="3">p</tspan><tspan dy="-3">,x</tspan><tspan class="sb" dy="3">q</tspan><tspan dy="-3">)</tspan></text>
</g>
<g id="b-mid-right">
<rect class="bx" x="871" y="266" width="289" height="69"/>
<path class="sd" d="M1160,266L1164,270V339H875L871,335"/>
<rect class="bx" x="899" y="276" width="100" height="49"/>
<text class="pdt" x="949" y="298">Partial Description</text>
<text class="pdt" x="949" y="309">(Polynomial Function)</text>
<text class="t i" x="873" y="289">x<tspan class="sb" dy="3">p</tspan></text>
<text class="t i" x="873" y="302">x<tspan class="sb" dy="3">q</tspan></text>
<text class="t i" x="873" y="315">x<tspan class="sb" dy="3">r</tspan></text>
<line class="ar" x1="885" y1="286" x2="899" y2="286"/>
<line class="ar" x1="885" y1="299" x2="899" y2="299"/>
<line class="ar" x1="885" y1="312" x2="899" y2="312"/>
<path class="br" d="M999,300H1004"/>
<path class="ar" d="M1004,300Q1005,291 1011,291H1017"/>
<path class="ar" d="M1004,300Q1005,314 1011,314H1017"/>
<text class="t i" x="1019" y="295">z<tspan class="sb" dy="3">i</tspan><tspan dy="-3">=f(x</tspan><tspan class="sb" dy="3">p</tspan><tspan dy="-3">,x</tspan><tspan class="sb" dy="3">q</tspan><tspan dy="-3">,x</tspan><tspan class="sb" dy="3">r</tspan><tspan dy="-3">)</tspan></text>
<text class="t" x="1111" y="295">- case 1</text>
<text class="t i" x="1019" y="318">z<tspan class="sb" dy="3">i</tspan><tspan dy="-3">'=f'(x</tspan><tspan class="sb" dy="3">p</tspan><tspan dy="-3">,x</tspan><tspan class="sb" dy="3">q</tspan><tspan dy="-3">,x</tspan><tspan class="sb" dy="3">r</tspan><tspan dy="-3">)</tspan></text>
<text class="t" x="1110" y="318">- case 2</text>
</g>

<!-- ================= PANEL (b) ADVANCED NODES ================= -->
<g id="b-adv-labels">
<text class="t i" x="785" y="467">w</text>
<text class="t i" x="813" y="459">f<tspan class="sb" dy="2">i</tspan></text>
<text class="t i" x="1150" y="524">ŷ</text>
</g>
<g id="b-a-x1"><text class="t i" x="646" y="490">x<tspan class="sb" dy="3">1</tspan></text><circle class="e" cx="678" cy="487" r="2.5"/></g>
<g id="b-a-x2"><text class="t i" x="646" y="553">x<tspan class="sb" dy="3">2</tspan></text><circle class="e" cx="679" cy="550" r="2.5"/></g>
<g id="b-a-A11"><circle class="e" cx="703" cy="471" r="12"/><text class="t m n12" x="703" y="475">A<tspan class="sb" dy="2">11</tspan></text></g>
<g id="b-a-A12"><circle class="e" cx="703" cy="503" r="12"/><text class="t m n12" x="703" y="507">A<tspan class="sb" dy="2">12</tspan></text></g>
<g id="b-a-A21"><circle class="e" cx="703" cy="534" r="12"/><text class="t m n12" x="703" y="538">A<tspan class="sb" dy="2">21</tspan></text></g>
<g id="b-a-A22"><circle class="e" cx="703" cy="566" r="12"/><text class="t m n12" x="703" y="570">A<tspan class="sb" dy="2">22</tspan></text></g>
<g id="b-a-P1"><circle class="e" cx="739" cy="471" r="7.5"/><text class="t m n12" x="739" y="475.5">Π</text></g>
<g id="b-a-P2"><circle class="e" cx="739" cy="503" r="7.5"/><text class="t m n12" x="739" y="507.5">Π</text></g>
<g id="b-a-P3"><circle class="e" cx="739" cy="534" r="7.5"/><text class="t m n12" x="739" y="538.5">Π</text></g>
<g id="b-a-P4"><circle class="e" cx="739" cy="566" r="7.5"/><text class="t m n12" x="739" y="570.5">Π</text></g>
<g id="b-a-N1"><circle class="e" cx="774" cy="471" r="7.5"/><text class="t m n12" x="774" y="475.5">N</text></g>
<g id="b-a-N2"><circle class="e" cx="774" cy="503" r="7.5"/><text class="t m n12" x="774" y="507.5">N</text></g>
<g id="b-a-N3"><circle class="e" cx="774" cy="534" r="7.5"/><text class="t m n12" x="774" y="538.5">N</text></g>
<g id="b-a-N4"><circle class="e" cx="774" cy="566" r="7.5"/><text class="t m n12" x="774" y="570.5">N</text></g>
<g id="b-a-L1"><circle class="e" cx="806" cy="471" r="8.5"/></g>
<g id="b-a-L2"><circle class="e" cx="806" cy="503" r="8.5"/></g>
<g id="b-a-L3"><circle class="e" cx="806" cy="534" r="8.5"/></g>
<g id="b-a-L4"><circle class="e" cx="806" cy="566" r="8.5"/></g>
<g id="b-a-pd1-up">
<rect class="ds" x="834" y="432" width="44" height="110"/>
<ellipse class="e" cx="856" cy="447" rx="16.5" ry="7.5"/><text class="pt" x="856" y="449.5">PD</text>
<ellipse class="e" cx="856" cy="463" rx="16.5" ry="7.5"/><text class="pt" x="856" y="465.5">PD</text>
<ellipse class="e" cx="856" cy="479" rx="16.5" ry="7.5"/><text class="pt" x="856" y="481.5">PD</text>
<ellipse class="e" cx="856" cy="495" rx="16.5" ry="7.5"/><text class="pt" x="856" y="497.5">PD</text>
<ellipse class="e" cx="856" cy="511" rx="16.5" ry="7.5"/><text class="pt" x="856" y="513.5">PD</text>
<ellipse class="e" cx="856" cy="527" rx="16.5" ry="7.5"/><text class="pt" x="856" y="529.5">PD</text>
</g>
<g id="b-a-pd1-low">
<rect class="ds" x="834" y="580" width="44" height="75"/>
<ellipse class="e" cx="856" cy="590" rx="16.5" ry="7.5"/><text class="pt" x="856" y="592.5">PD</text>
<ellipse class="e" cx="856" cy="607" rx="16.5" ry="7.5"/><text class="pt" x="856" y="609.5">PD</text>
<ellipse class="e" cx="856" cy="623" rx="16.5" ry="7.5"/><text class="pt" x="856" y="625.5">PD</text>
<ellipse class="e" cx="856" cy="640" rx="16.5" ry="7.5"/><text class="pt" x="856" y="642.5">PD</text>
</g>
<g id="b-a-l2-up">
<rect class="ds" x="892" y="373" width="106" height="98"/>
<ellipse class="e" cx="917" cy="387" rx="16" ry="7.5"/><text class="pt" x="917" y="389.5">PD</text>
<ellipse class="e" cx="917" cy="403" rx="16" ry="7.5"/><text class="pt" x="917" y="405.5">PD</text>
<circle class="dot" cx="917" cy="416" r="1.6"/><circle class="dot" cx="917" cy="423" r="1.6"/>
<ellipse class="e" cx="917" cy="437" rx="16" ry="7.5"/><text class="pt" x="917" y="439.5">PD</text>
<ellipse class="e" cx="917" cy="453" rx="16" ry="7.5"/><text class="pt" x="917" y="455.5">PD</text>
<ellipse class="e" cx="977" cy="392" rx="16" ry="7.5"/><text class="pt" x="977" y="394.5">PD</text>
<ellipse class="e" cx="977" cy="407" rx="16" ry="7.5"/><text class="pt" x="977" y="409.5">PD</text>
<circle class="dot" cx="977" cy="421" r="1.6"/><circle class="dot" cx="977" cy="428" r="1.6"/>
<ellipse class="e" cx="977" cy="442" rx="16" ry="7.5"/><text class="pt" x="977" y="444.5">PD</text>
<ellipse class="e" cx="977" cy="458" rx="16" ry="7.5"/><text class="pt" x="977" y="460.5">PD</text>
</g>
<g id="b-a-nop">
<ellipse class="e" cx="917" cy="488" rx="16" ry="7.5"/><text class="nt" x="917" y="490">NOP</text>
<ellipse class="e" cx="917" cy="504" rx="16" ry="7.5"/><text class="nt" x="917" y="506">NOP</text>
<circle class="dot" cx="917" cy="519" r="1.6"/><circle class="dot" cx="917" cy="526" r="1.6"/>
<ellipse class="e" cx="917" cy="542" rx="16" ry="7.5"/><text class="nt" x="917" y="544">NOP</text>
<ellipse class="e" cx="917" cy="558" rx="16" ry="7.5"/><text class="nt" x="917" y="560">NOP</text>
<ellipse class="e" cx="977" cy="488" rx="16" ry="7.5"/><text class="nt" x="977" y="490">NOP</text>
<ellipse class="e" cx="977" cy="504" rx="16" ry="7.5"/><text class="nt" x="977" y="506">NOP</text>
<circle class="dot" cx="977" cy="519" r="1.6"/><circle class="dot" cx="977" cy="526" r="1.6"/>
<ellipse class="e" cx="977" cy="542" rx="16" ry="7.5"/><text class="nt" x="977" y="544">NOP</text>
<ellipse class="e" cx="977" cy="558" rx="16" ry="7.5"/><text class="nt" x="977" y="560">NOP</text>
</g>
<g id="b-a-l2-low">
<rect class="ds" x="892" y="580" width="106" height="75"/>
<ellipse class="e" cx="917" cy="590" rx="16" ry="7.5"/><text class="pt" x="917" y="592.5">PD</text>
<ellipse class="e" cx="917" cy="607" rx="16" ry="7.5"/><text class="pt" x="917" y="609.5">PD</text>
<ellipse class="e" cx="917" cy="623" rx="16" ry="7.5"/><text class="pt" x="917" y="625.5">PD</text>
<ellipse class="e" cx="917" cy="639" rx="16" ry="7.5"/><text class="pt" x="917" y="641.5">PD</text>
<ellipse class="e" cx="977" cy="590" rx="16" ry="7.5"/><text class="pt" x="977" y="592.5">PD</text>
<ellipse class="e" cx="977" cy="607" rx="16" ry="7.5"/><text class="pt" x="977" y="609.5">PD</text>
<ellipse class="e" cx="977" cy="623" rx="16" ry="7.5"/><text class="pt" x="977" y="625.5">PD</text>
<ellipse class="e" cx="977" cy="639" rx="16" ry="7.5"/><text class="pt" x="977" y="641.5">PD</text>
</g>
<g id="b-a-final">
<circle class="dot" cx="1005" cy="519" r="1.6"/><circle class="dot" cx="1012" cy="519" r="1.6"/><circle class="dot" cx="1019" cy="519" r="1.6"/>
<rect class="ds" x="1027" y="485" width="102" height="69"/>
<ellipse class="e" cx="1047" cy="498" rx="16" ry="7.5"/><text class="pt" x="1047" y="500.5">PD</text>
<ellipse class="e" cx="1047" cy="519" rx="16" ry="7.5"/><text class="pt" x="1047" y="521.5">PD</text>
<ellipse class="e" cx="1047" cy="541" rx="16" ry="7.5"/><text class="pt" x="1047" y="543.5">PD</text>
<ellipse class="e" cx="1106" cy="520" rx="16" ry="7.5"/><text class="pt" x="1106" y="522.5">PD</text>
</g>

<!-- ================= PANEL (b) BOTTOM BOXES ================= -->
<g id="b-bot-left">
<rect class="bx" x="644" y="718" width="211" height="75"/>
<path class="sd" d="M855,718L859,722V797H648L644,793"/>
<rect class="bx" x="682" y="731" width="100" height="47"/>
<text class="pdt" x="732" y="751">Partial Description</text>
<text class="pdt" x="732" y="762">(Polynomial Function)</text>
<text class="t i" x="649" y="760">x<tspan class="sb" dy="3">p</tspan></text>
<line class="ar" x1="664" y1="756" x2="682" y2="756"/>
<line class="ar" x1="782" y1="756" x2="803" y2="756"/>
<text class="t i" x="806" y="760">z<tspan class="sb" dy="3">i</tspan><tspan dy="-3">=f(x</tspan><tspan class="sb" dy="3">p</tspan><tspan dy="-3">)</tspan></text>
</g>
<g id="b-bot-right">
<rect class="bx" x="879" y="718" width="281" height="75"/>
<path class="sd" d="M1160,718L1164,722V797H883L879,793"/>
<rect class="bx" x="920" y="731" width="100" height="47"/>
<text class="pdt" x="970" y="751">Partial Description</text>
<text class="pdt" x="970" y="762">(Polynomial Function)</text>
<text class="t i" x="885" y="760">x<tspan class="sb" dy="3">p</tspan></text>
<line class="ar" x1="898" y1="756" x2="920" y2="756"/>
<path class="br" d="M1020,756H1027"/>
<path class="ar" d="M1027,756Q1028,742 1035,742H1045"/>
<path class="ar" d="M1027,756Q1028,771 1035,771H1045"/>
<text class="t i" x="1050" y="746">z<tspan class="sb" dy="3">i</tspan><tspan dy="-3">=f(x</tspan><tspan class="sb" dy="3">p</tspan><tspan dy="-3">)</tspan></text>
<text class="t" x="1107" y="746">- case 1</text>
<text class="t i" x="1050" y="775">z<tspan class="sb" dy="3">i</tspan><tspan dy="-3">'=f'(x</tspan><tspan class="sb" dy="3">p</tspan><tspan dy="-3">)</tspan></text>
<text class="t" x="1105" y="775">- case 2</text>
</g>

<g id="captions">
<text class="cap" x="289" y="825">(a) Basic RFPNN architecture.</text>
<text class="cap" x="884" y="825">(b) Modified RFPNN architecture.</text>
</g>
</svg>
